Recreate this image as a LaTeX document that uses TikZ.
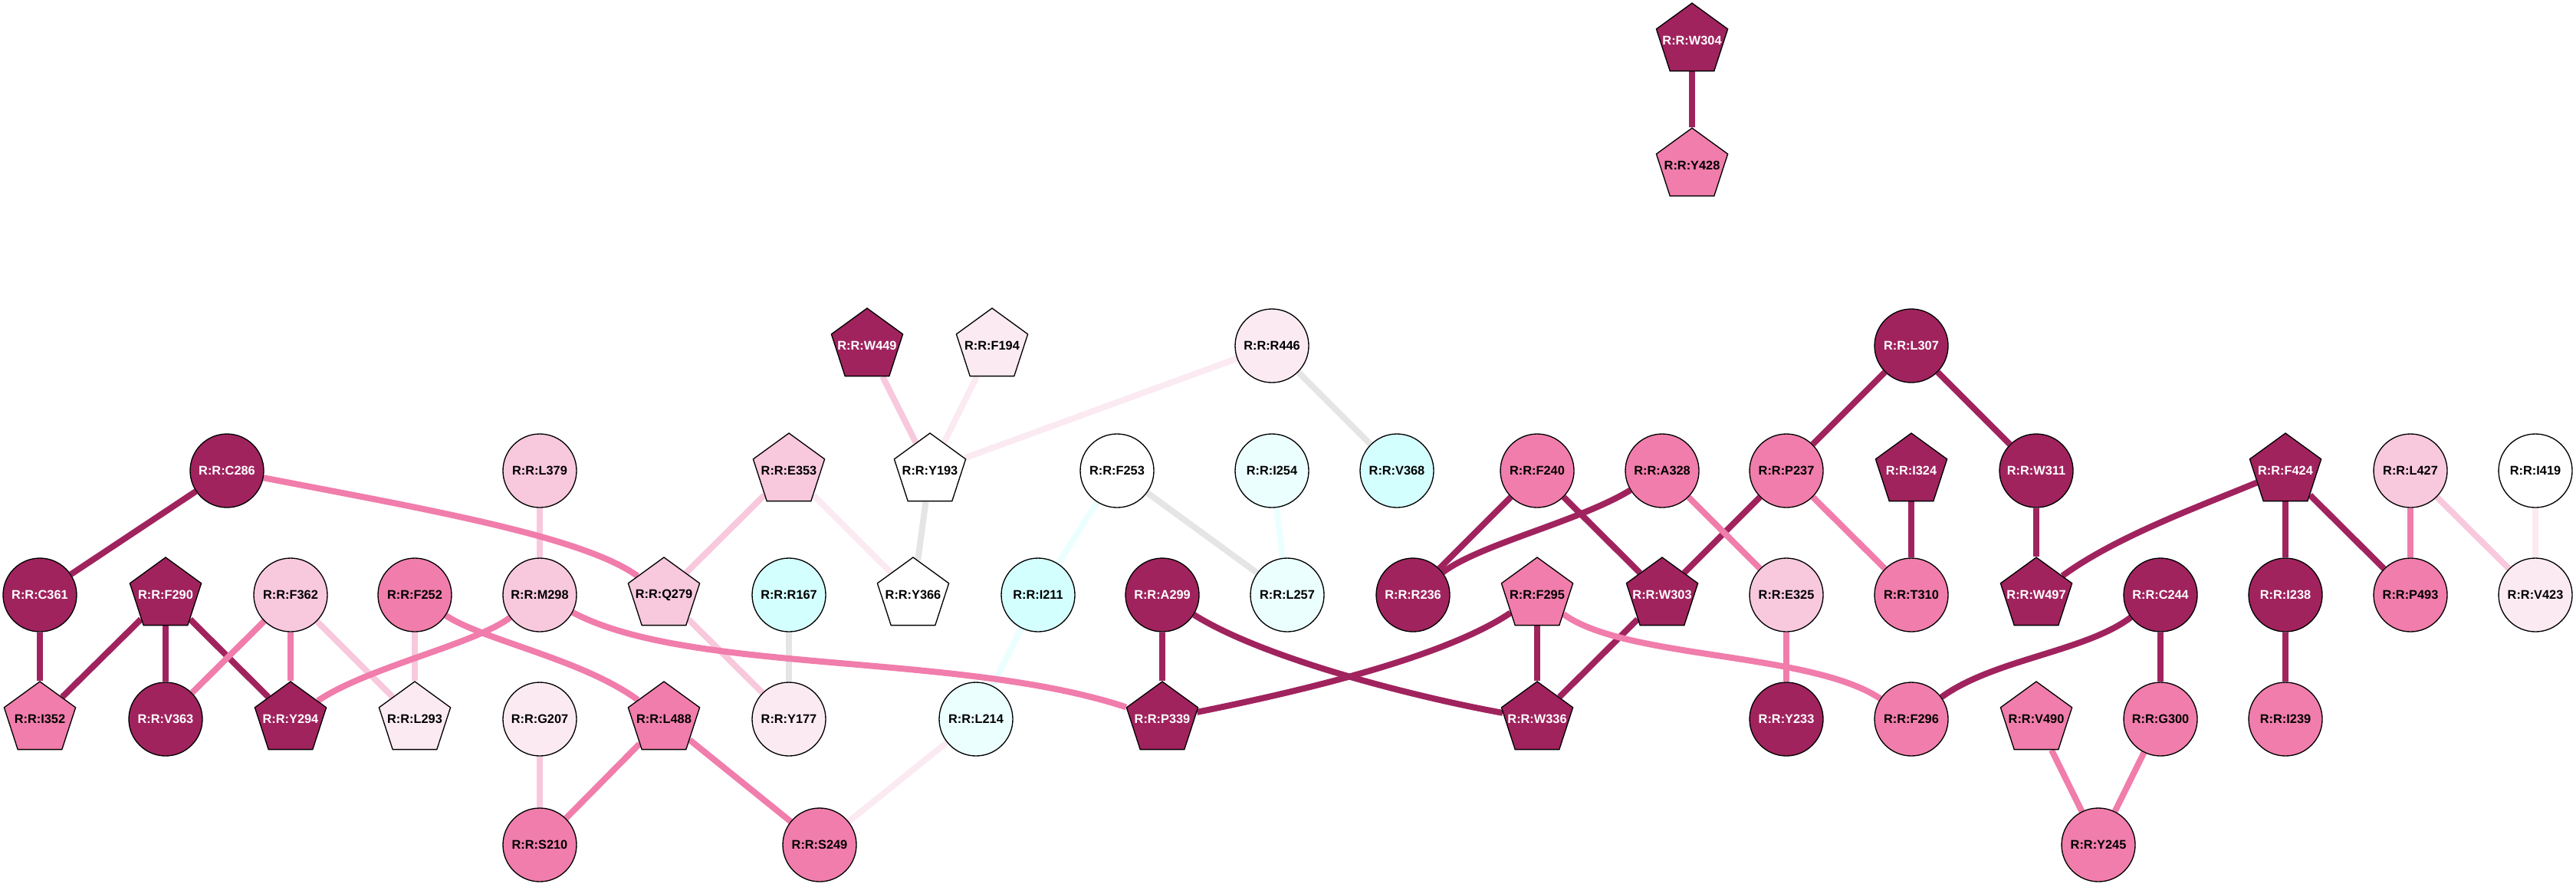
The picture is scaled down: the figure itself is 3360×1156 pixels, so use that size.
\documentclass[tikz,border=0pt]{standalone}
\usepackage{fontspec}
\setmainfont{Liberation Sans}
\usetikzlibrary{shapes.geometric,backgrounds}
\definecolor{resdk}{HTML}{A0235E}
\definecolor{resmd}{HTML}{F07DAB}
\definecolor{reslt}{HTML}{F8C8DD}
\definecolor{resvl}{HTML}{FBEAF2}
\definecolor{rescy}{HTML}{D4FFFF}
\definecolor{reslc}{HTML}{EBFFFF}
\definecolor{resgr}{HTML}{E5E5E5}
\newcommand{\reslabel}[1]{\makebox[0pt]{R:R:#1}}
\tikzset{
  res/.style={draw=black, line width=0.4pt, inner sep=0pt, font=\fontsize{4.9}{5.9}\selectfont\bfseries},
  rc/.style={res, circle, minimum size=28.8pt},
  rp/.style={res, regular polygon, regular polygon sides=5, minimum size=29.4pt},
  cdk/.style={rc, fill=resdk, text=white}, pdk/.style={rp, fill=resdk, text=white},
  cmd/.style={rc, fill=resmd}, pmd/.style={rp, fill=resmd},
  clt/.style={rc, fill=reslt}, plt/.style={rp, fill=reslt},
  cvl/.style={rc, fill=resvl}, pvl/.style={rp, fill=resvl},
  cwh/.style={rc, fill=white}, pwh/.style={rp, fill=white},
  ccy/.style={rc, fill=rescy}, clc/.style={rc, fill=reslc},
  edk/.style={draw=resdk, line width=2.4pt},
  emd/.style={draw=resmd, line width=2.4pt},
  elt/.style={draw=reslt, line width=2.4pt},
  evl/.style={draw=resvl, line width=2.4pt},
  egr/.style={draw=resgr, line width=2.4pt},
  elc/.style={draw=reslc, line width=2.4pt}
}
\begin{document}
\begin{tikzpicture}[x=0.3pt, y=-0.3pt]
\useasboundingbox (0,0) rectangle (3360,1156);
\node[pdk] (W304) at (2207,53) {\reslabel{W304}};
\node[pmd] (Y428) at (2207,216) {\reslabel{Y428}};
\foreach \n/\x/\s in {W449/1131/pdk, F194/1294/pvl, R446/1659/cvl, L307/2493/cdk}
  \node[\s] (\n) at (\x,451) {\reslabel{\n}};
\foreach \n/\x/\s in {C286/296/cdk, L379/704/clt, E353/1029/plt, Y193/1213/pwh, F253/1457/cwh,
    I254/1659/clc, V368/1822/ccy, F240/2005/cmd, A328/2168/cmd, P237/2330/cmd, I324/2493/pdk,
    W311/2656/cdk, F424/2981/pdk, L427/3144/clt, I419/3307/cwh}
  \node[\s] (\n) at (\x,614) {\reslabel{\n}};
\foreach \n/\x/\s in {C361/52/cdk, F290/216/pdk, F362/379/clt, F252/541/cmd, M298/704/clt,
    Q279/866/plt, R167/1029/ccy, Y366/1191/pwh, I211/1354/ccy, A299/1516/cdk, L257/1679/clc,
    R236/1843/cdk, F295/2005/pmd, W303/2168/pdk, E325/2330/clt, T310/2493/cmd, W497/2656/pdk,
    C244/2818/cdk, I238/2981/cdk, P493/3144/cmd, V423/3307/cvl}
  \node[\s] (\n) at (\x,776) {\reslabel{\n}};
\foreach \n/\x/\s in {I352/52/pmd, V363/216/cdk, Y294/379/pdk, L293/541/pvl, G207/704/cvl,
    L488/866/pmd, Y177/1029/cvl, L214/1273/clc, P339/1516/pdk, W336/2005/pdk, Y233/2330/cdk,
    F296/2493/cmd, V490/2656/pmd, G300/2818/cmd, I239/2981/cmd}
  \node[\s] (\n) at (\x,938) {\reslabel{\n}};
\foreach \n/\x/\s in {S210/704/cmd, S249/1069/cmd, Y245/2737/cmd}
  \node[\s] (\n) at (\x,1102) {\reslabel{\n}};
\begin{scope}[on background layer]
\foreach \a/\b in {W304/Y428, C286/C361, C361/I352, F290/I352, F290/V363, F290/Y294,
    A299/P339, F295/W336, W303/W336, F240/R236, F240/W303, P237/W303, L307/P237,
    L307/W311, I324/T310, W311/W497, F424/I238, F424/P493, C244/G300, I238/I239}
  \draw[edk] (\a) -- (\b);
\foreach \a/\b in {F362/V363, F362/Y294, L488/S210, L488/S249, A328/E325, P237/T310,
    E325/Y233, L427/P493, V490/Y245, G300/Y245}
  \draw[emd] (\a) -- (\b);
\foreach \a/\b in {L379/M298, E353/Q279, F362/L293, F252/L293, Q279/Y177, G207/S210,
    W449/Y193, L427/V423}
  \draw[elt] (\a) -- (\b);
\foreach \a/\b in {E353/Y366, F194/Y193, R446/Y193, L214/S249, I419/V423}
  \draw[evl] (\a) -- (\b);
\foreach \a/\b in {R167/Y177, R446/V368, Y193/Y366, F253/L257}
  \draw[egr] (\a) -- (\b);
\foreach \a/\b in {F253/I211, I254/L257, I211/L214}
  \draw[elc] (\a) -- (\b);
\draw[emd] (C286) .. controls (560,665) and (760,700) .. (Q279);
\draw[emd] (M298) .. controls (620,840) and (480,870) .. (Y294);
\draw[emd] (M298) .. controls (900,880) and (1250,850) .. (P339);
\draw[emd] (F252) .. controls (630,835) and (760,860) .. (L488);
\draw[emd] (F295) .. controls (2120,860) and (2360,850) .. (F296);
\draw[edk] (A299) .. controls (1650,860) and (1850,910) .. (W336);
\draw[edk] (F295) .. controls (1880,860) and (1680,905) .. (P339);
\draw[edk] (A328) .. controls (2060,680) and (1930,710) .. (R236);
\draw[edk] (C244) .. controls (2720,850) and (2600,860) .. (F296);
\draw[edk] (F424) .. controls (2870,660) and (2760,700) .. (W497);
\end{scope}
\end{tikzpicture}
\end{document}
